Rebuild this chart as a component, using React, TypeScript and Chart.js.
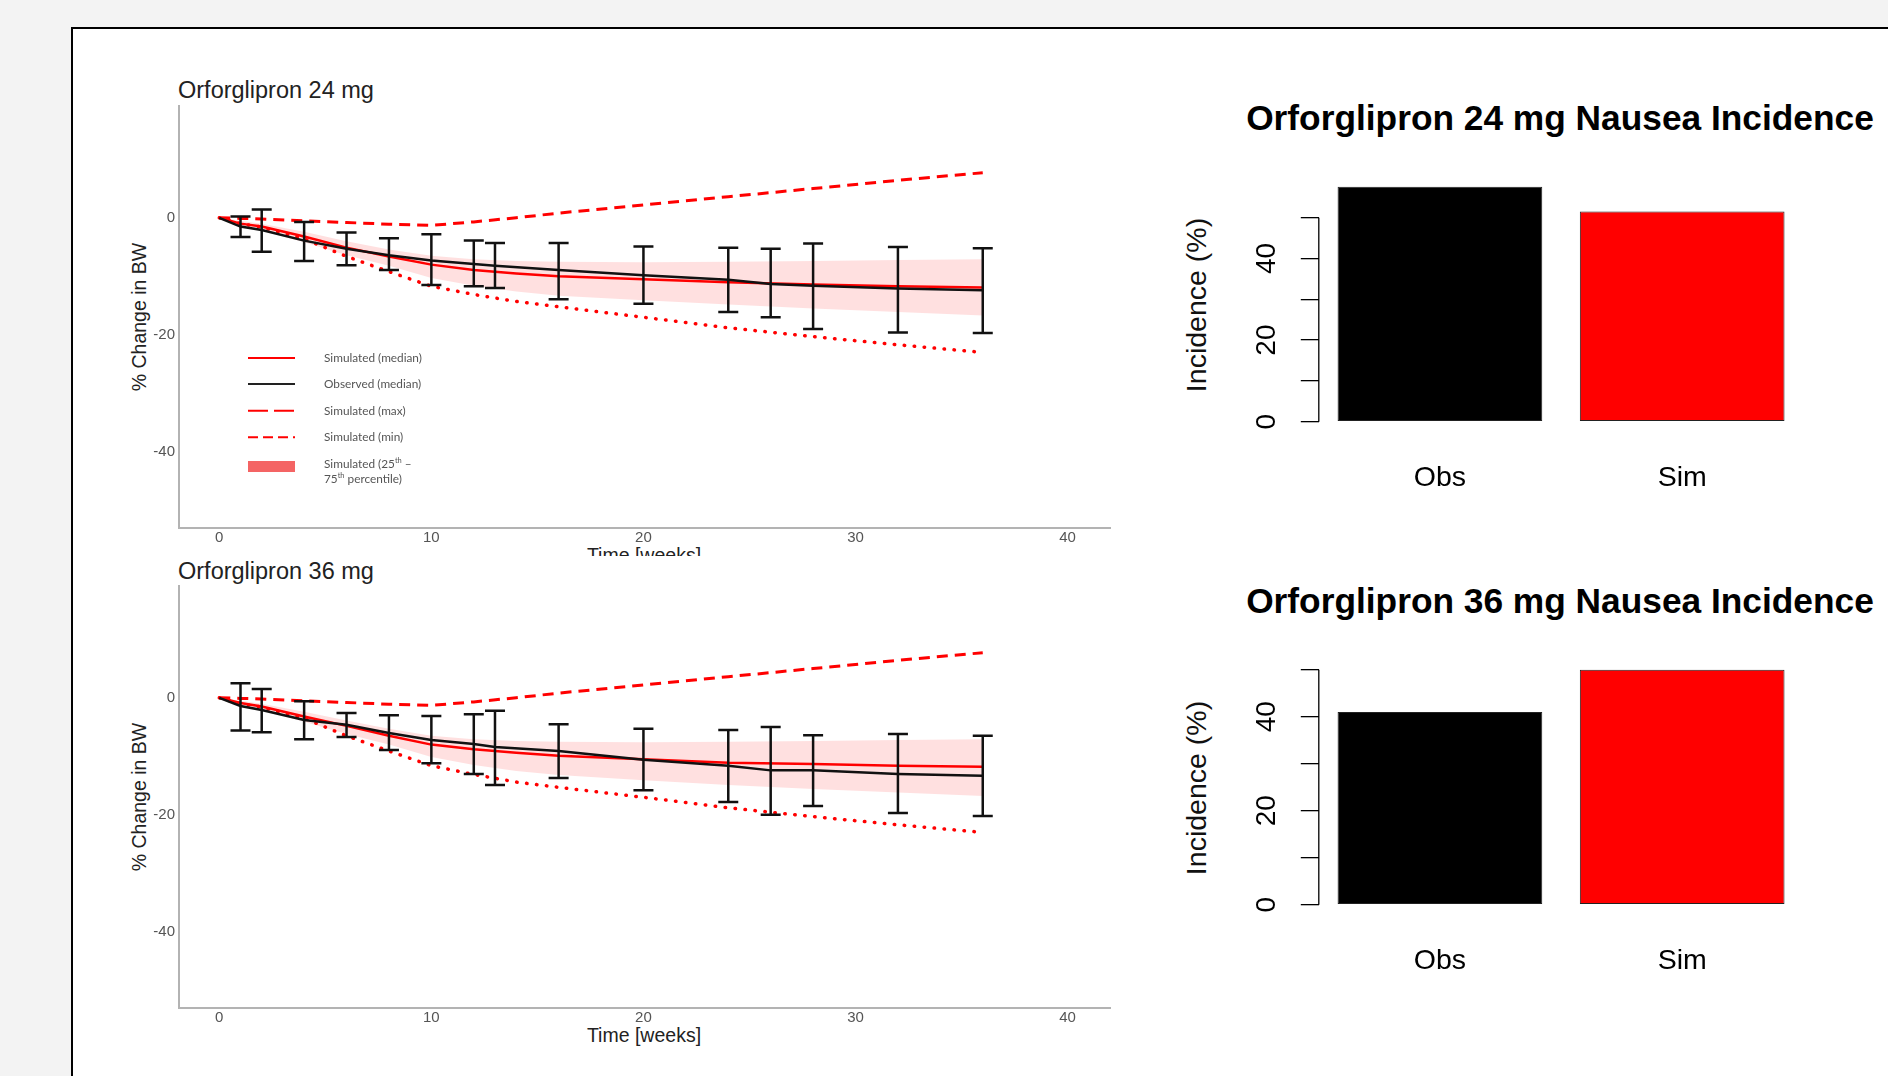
import React, { useEffect, useRef } from "react";
import { Chart, registerables } from "chart.js";

Chart.register(...registerables);

const SANS = "'Liberation Sans', Arial, Helvetica, sans-serif";

// ---------- Body-weight panels ----------
const simWeeks = [0, 1, 2, 4, 6, 8, 10, 12, 14, 16, 20, 24, 28, 32, 36];
const obsWeeks = [0, 1, 2, 4, 6, 8, 10, 12, 13, 16, 20, 24, 26, 28, 32, 36];
const timeTicks = [0, 10, 20, 30, 40];
const changeTicks = [0, -20, -40];

// Orforglipron 24 mg
const obsMedian24 = [0, -1.5, -2.1, -3.9, -5.3, -6.4, -7.3, -7.9, -8.2, -8.9, -9.8, -10.6, -11.3, -11.6, -12.1, -12.4];
const obsUpper24 = [null, 0.2, 1.4, -0.7, -2.5, -3.5, -2.8, -3.9, -4.3, -4.3, -4.9, -5.1, -5.3, -4.4, -5.0, -5.2];
const obsLower24 = [null, -3.3, -5.8, -7.4, -8.1, -8.9, -11.5, -11.7, -12.0, -13.9, -14.7, -16.1, -17.0, -19.0, -19.6, -19.7];
const simMedian24 = [0, -1.0, -1.5, -3.2, -5.1, -6.6, -8.0, -8.9, -9.5, -10.0, -10.5, -11.0, -11.4, -11.7, -11.9];
const simP75_24 = [0, -0.5, -1.0, -2.4, -4.0, -5.4, -6.5, -7.1, -7.4, -7.5, -7.6, -7.5, -7.4, -7.2, -7.1];
const simP25_24 = [0, -1.4, -2.2, -4.2, -6.4, -8.2, -10.3, -11.6, -12.6, -13.3, -14.1, -14.8, -15.5, -16.1, -16.7];
const simMax24 = [0, -0.1, -0.2, -0.5, -0.8, -1.1, -1.3, -0.7, 0.0, 0.8, 2.2, 3.6, 5.0, 6.4, 7.7];
const simMin24 = [0, -1.0, -1.6, -3.6, -6.6, -9.2, -11.7, -13.1, -14.3, -15.2, -17.0, -18.8, -20.3, -21.7, -23.0];

// Orforglipron 36 mg
const obsMedian36 = [0, -1.4, -2.1, -3.8, -4.6, -6.0, -7.2, -7.9, -8.4, -9.1, -10.6, -11.6, -12.4, -12.4, -13.0, -13.3];
const obsUpper36 = [null, 2.5, 1.5, -0.6, -2.6, -3.0, -3.1, -2.8, -2.2, -4.5, -5.3, -5.5, -5.0, -6.4, -6.2, -6.5];
const obsLower36 = [null, -5.6, -5.9, -7.1, -6.7, -8.9, -11.2, -13.0, -14.9, -13.7, -15.8, -17.8, -20.0, -18.5, -19.7, -20.2];
const simMedian36 = [0, -0.9, -1.5, -3.2, -4.8, -6.5, -8.0, -8.8, -9.4, -9.9, -10.5, -11.1, -11.3, -11.6, -11.8];
const simP75_36 = [0, -0.5, -1.0, -2.4, -3.9, -5.3, -6.5, -7.1, -7.4, -7.5, -7.6, -7.5, -7.4, -7.2, -7.1];
const simP25_36 = [0, -1.3, -2.1, -4.1, -6.2, -8.0, -10.1, -11.5, -12.5, -13.2, -14.1, -14.9, -15.6, -16.2, -16.8];
const simMax36 = [0, -0.1, -0.2, -0.5, -0.8, -1.1, -1.3, -0.7, 0.0, 0.8, 2.2, 3.6, 5.0, 6.4, 7.7];
const simMin36 = [0, -1.0, -1.6, -3.5, -6.5, -9.1, -11.6, -13.1, -14.4, -15.3, -17.0, -18.8, -20.3, -21.7, -23.0];

const legendLabels = ["Simulated (median)", "Observed (median)", "Simulated (max)", "Simulated (min)"];
const legendRibbonLines = [
  ["Simulated (25", "th", " \u2013"],
  ["75", "th", " percentile)"],
];

// ---------- Nausea panels ----------
const barCategories = ["Obs", "Sim"];
const nausea24 = [57.6, 51.5];
const nausea36 = [41.0, 50.0];
const barTicks = [0, 10, 20, 30, 40, 50];
const barTickLabels = [0, 20, 40];

const pts = (xs: number[], ys: (number | null)[]) => xs.map((x, i) => ({ x, y: ys[i] }));

function LineChart(props: any) {
  const ref = useRef<HTMLCanvasElement>(null);
  useEffect(() => {
    const { obsMedian, obsUpper, obsLower, simMedian, simP75, simP25, simMax, simMin, showLegend } = props;
    const errorBars = {
      id: "errorBars",
      afterDatasetsDraw(chart: any) {
        const { ctx, scales } = chart;
        const xs = scales.x, ys = scales.y;
        ctx.save();
        ctx.strokeStyle = "#111";
        ctx.lineWidth = 2.5;
        obsWeeks.forEach((w, i) => {
          if (obsUpper[i] == null) return;
          const px = xs.getPixelForValue(w);
          const y1 = ys.getPixelForValue(obsUpper[i]);
          const y2 = ys.getPixelForValue(obsLower[i]);
          ctx.beginPath();
          ctx.moveTo(px, y1); ctx.lineTo(px, y2);
          ctx.moveTo(px - 10, y1); ctx.lineTo(px + 10, y1);
          ctx.moveTo(px - 10, y2); ctx.lineTo(px + 10, y2);
          ctx.stroke();
        });
        ctx.restore();
      },
    };
    const legendPlugin = {
      id: "customLegend",
      afterDraw(chart: any) {
        const { ctx, chartArea: a } = chart;
        const x1 = a.left + 69, x2 = a.left + 116, tx = a.left + 145;
        const rows = [252, 278, 304.7, 331.3];
        const styles = [
          { c: "#ff0000", d: [] },
          { c: "#222222", d: [] },
          { c: "#ff0000", d: [20, 6] },
          { c: "#ff0000", d: [10, 5] },
        ];
        ctx.save();
        ctx.textBaseline = "middle";
        rows.forEach((dy, i) => {
          const y = a.top + dy;
          ctx.strokeStyle = styles[i].c;
          ctx.lineWidth = 2;
          ctx.setLineDash(styles[i].d);
          ctx.beginPath(); ctx.moveTo(x1, y); ctx.lineTo(x2, y); ctx.stroke();
          ctx.font = "11.8px Lato";
          ctx.fillStyle = "#555";
          ctx.fillText(legendLabels[i], tx, y);
        });
        ctx.setLineDash([]);
        ctx.fillStyle = "#f46464";
        ctx.fillRect(x1, a.top + 355, x2 - x1, 11);
        const lineYs = [358.3, 373.3];
        legendRibbonLines.forEach((parts, li) => {
          let cx = tx;
          const y = a.top + lineYs[li];
          parts.forEach((p, pi) => {
            const sup = pi === 1;
            ctx.font = sup ? "7.5px Lato" : "11.8px Lato";
            ctx.fillStyle = "#555";
            ctx.fillText(p, cx, sup ? y - 3.5 : y);
            cx += ctx.measureText(p).width;
          });
        });
        ctx.restore();
      },
    };
    const tickFont = { family: SANS, size: 15 };
    const chart = new Chart(ref.current as HTMLCanvasElement, {
      type: "line",
      data: {
        datasets: [
          { data: pts(simWeeks, simP25), borderWidth: 0, pointRadius: 0, fill: false, order: 6 },
          { data: pts(simWeeks, simP75), borderWidth: 0, pointRadius: 0, fill: 0, backgroundColor: "rgba(255,0,0,0.12)", order: 5 },
          { data: pts(simWeeks, simMin), borderColor: "#ff0000", borderWidth: 3.5, borderDash: [0.5, 9.5], borderCapStyle: "round", pointRadius: 0, order: 4 },
          { data: pts(simWeeks, simMax), borderColor: "#ff0000", borderWidth: 3, borderDash: [11, 7], pointRadius: 0, order: 3 },
          { data: pts(simWeeks, simMedian), borderColor: "#ff0000", borderWidth: 2.5, pointRadius: 0, order: 2 },
          { data: pts(obsWeeks, obsMedian), borderColor: "#111", borderWidth: 2.5, pointRadius: 0, order: 1 },
        ],
      } as any,
      options: {
        animation: false,
        responsive: false,
        devicePixelRatio: 1,
        events: [],
        layout: { padding: { top: 26, right: 30, left: 0, bottom: 0 } },
        plugins: { legend: { display: false }, tooltip: { enabled: false } },
        scales: {
          x: {
            type: "linear",
            min: -1.9,
            max: 42,
            afterBuildTicks: (s: any) => { s.ticks = timeTicks.map((v) => ({ value: v })); },
            afterFit: (s: any) => { s.height = 28; },
            grid: { display: false, drawTicks: false },
            border: { display: true, color: "#b3b3b3", width: 2 },
            ticks: { padding: 1, color: "#555", font: tickFont, callback: (v: any) => String(v) },
          },
          y: {
            type: "linear",
            min: -53,
            max: 19.1,
            afterBuildTicks: (s: any) => { s.ticks = changeTicks.map((v) => ({ value: v })); },
            afterFit: (s: any) => { s.width = 79; },
            grid: { display: false, drawTicks: false },
            border: { display: true, color: "#b3b3b3", width: 2 },
            ticks: { padding: 4, color: "#555", font: tickFont, callback: (v: any) => String(v) },
          },
        },
      } as any,
      plugins: showLegend ? [errorBars, legendPlugin] : [errorBars],
    });
    return () => chart.destroy();
  }, []);
  return (
    <canvas
      ref={ref}
      width={1040}
      height={476}
      style={{ position: "absolute", left: props.left, top: props.top, width: 1040, height: 476 }}
    />
  );
}

function BarChart(props: any) {
  const ref = useRef<HTMLCanvasElement>(null);
  useEffect(() => {
    const values: number[] = props.values;
    const vmax = Math.max(...values);
    const axisPlugin = {
      id: "rAxis",
      afterDraw(chart: any) {
        const { ctx, chartArea: a, scales } = chart;
        const y = scales.y;
        ctx.save();
        ctx.strokeStyle = "#000";
        ctx.lineWidth = 1.3;
        ctx.beginPath();
        ctx.moveTo(a.left, y.getPixelForValue(barTicks[0]));
        ctx.lineTo(a.left, y.getPixelForValue(barTicks[barTicks.length - 1]));
        ctx.stroke();
        ctx.fillStyle = "#000";
        ctx.font = "28px " + SANS;
        ctx.textAlign = "center";
        ctx.textBaseline = "middle";
        barTickLabels.forEach((v) => {
          ctx.save();
          ctx.translate(a.left - 51.5, y.getPixelForValue(v));
          ctx.rotate(-Math.PI / 2);
          ctx.fillText(String(v), 0, 0);
          ctx.restore();
        });
        ctx.restore();
      },
    };
    const chart = new Chart(ref.current as HTMLCanvasElement, {
      type: "bar",
      data: {
        labels: barCategories,
        datasets: [
          {
            data: values,
            backgroundColor: ["#000000", "#ff0000"],
            borderColor: "#222",
            borderWidth: 1,
            borderSkipped: false,
            barPercentage: 0.845,
            categoryPercentage: 1,
          },
        ],
      } as any,
      options: {
        animation: false,
        responsive: false,
        devicePixelRatio: 1,
        events: [],
        layout: { padding: { top: 27.3, right: 46.7, left: 0, bottom: 0 } },
        plugins: { legend: { display: false }, tooltip: { enabled: false } },
        scales: {
          x: {
            type: "category",
            offset: true,
            afterFit: (s: any) => { s.height = 78.9; },
            grid: { display: false, drawTicks: false },
            border: { display: false },
            ticks: { padding: 30, color: "#000", font: { family: SANS, size: 28.5 } },
          },
          y: {
            type: "linear",
            min: -0.04 * vmax,
            max: 1.04 * vmax,
            afterBuildTicks: (s: any) => { s.ticks = barTicks.map((v) => ({ value: v })); },
            afterFit: (s: any) => { s.width = 168.8; },
            grid: { display: true, drawOnChartArea: false, drawTicks: true, tickLength: 18, color: "#000", lineWidth: 1.3 },
            border: { display: false },
            ticks: { display: false },
          },
        },
      } as any,
      plugins: [axisPlugin],
    });
    return () => chart.destroy();
  }, []);
  return (
    <canvas
      ref={ref}
      width={700}
      height={360}
      style={{ position: "absolute", left: props.left, top: props.top, width: 700, height: 360 }}
    />
  );
}

function Txt(props: any) {
  const { x, y, text, size, bold, color, rotate, anchor } = props;
  const tx = anchor === "start" ? "0" : "-50%";
  return (
    <div
      style={{
        position: "absolute",
        left: x,
        top: y,
        transform: `translate(${tx},-50%)` + (rotate ? ` rotate(${rotate}deg)` : ""),
        fontFamily: SANS,
        fontSize: size,
        fontWeight: bold ? 700 : 400,
        color: color || "#222",
        lineHeight: 1,
        whiteSpace: "nowrap",
      }}
    >
      {text}
    </div>
  );
}

export default function App() {
  return (
    <div style={{ position: "absolute", left: 0, top: 0, width: 1888, height: 1076, background: "#f3f3f3", overflow: "hidden" }}>
      <div style={{ position: "absolute", left: 71, top: 27, width: 1900, height: 1100, background: "#fff", border: "2px solid #000", boxSizing: "border-box" }} />

      <Txt x={178} y={90.5} text="Orforglipron 24 mg" size={23.5} anchor="start" />
      <Txt x={178} y={571.5} text="Orforglipron 36 mg" size={23.5} anchor="start" />
      <Txt x={139.7} y={316.7} text="% Change in BW" size={19.5} rotate={-90} />
      <Txt x={139.7} y={797} text="% Change in BW" size={19.5} rotate={-90} />
      <div style={{ position: "absolute", left: 0, top: 540, width: 1888, height: 16, overflow: "hidden" }}>
        <Txt x={644} y={15.5} text="Time [weeks]" size={19.5} />
      </div>
      <Txt x={644} y={1035.5} text="Time [weeks]" size={19.5} />

      <LineChart
        left={100}
        top={80}
        showLegend={true}
        obsMedian={obsMedian24}
        obsUpper={obsUpper24}
        obsLower={obsLower24}
        simMedian={simMedian24}
        simP75={simP75_24}
        simP25={simP25_24}
        simMax={simMax24}
        simMin={simMin24}
      />
      <LineChart
        left={100}
        top={560}
        showLegend={false}
        obsMedian={obsMedian36}
        obsUpper={obsUpper36}
        obsLower={obsLower36}
        simMedian={simMedian36}
        simP75={simP75_36}
        simP25={simP25_36}
        simMax={simMax36}
        simMin={simMin36}
      />

      <Txt x={1560} y={117.5} text="Orforglipron 24 mg Nausea Incidence" size={35.3} bold color="#000" />
      <Txt x={1560} y={600.5} text="Orforglipron 36 mg Nausea Incidence" size={35.3} bold color="#000" />
      <Txt x={1195.6} y={304.6} text="Incidence (%)" size={28.5} rotate={-90} color="#111" />
      <Txt x={1195.6} y={788} text="Incidence (%)" size={28.5} rotate={-90} color="#111" />

      <BarChart left={1150} top={150} values={nausea24} />
      <BarChart left={1150} top={632.5} values={nausea36} />
    </div>
  );
}
